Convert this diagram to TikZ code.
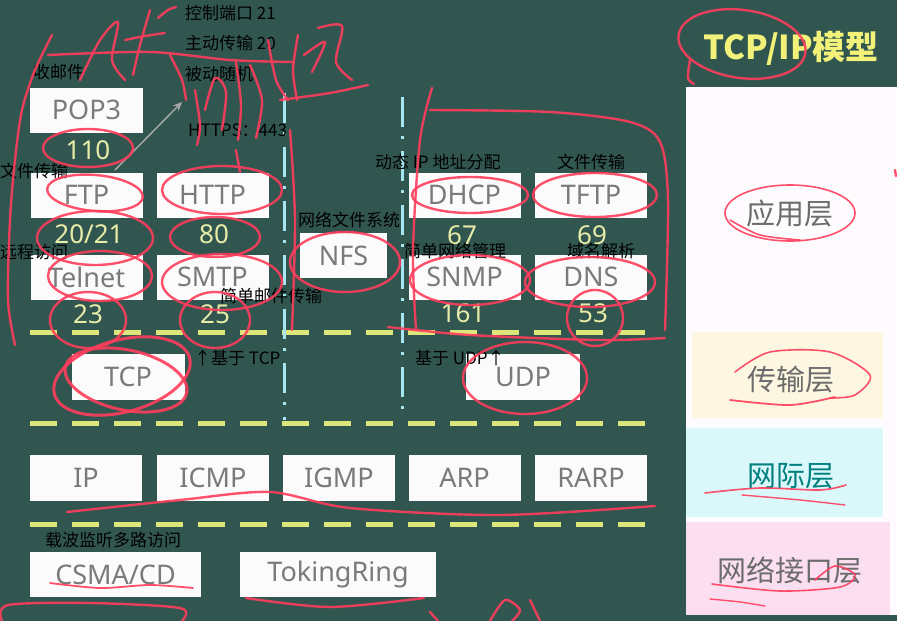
\documentclass[tikz,border=0pt]{standalone}
\usepackage{fontspec}
\setmainfont{Noto Sans CJK SC}
\newfontfamily\boxfont{Noto Sans}
\newfontfamily\cjk{Noto Sans CJK SC}
\usetikzlibrary{arrows.meta}
\definecolor{bg}{HTML}{30564F}
\definecolor{boxtext}{HTML}{7A7A7A}
\definecolor{numcol}{HTML}{E8ECA8}
\definecolor{dashy}{HTML}{DDE67A}
\definecolor{dashc}{HTML}{A6E6F0}
\definecolor{pen}{HTML}{FF3D5C}
\definecolor{titley}{HTML}{F2F27A}
\definecolor{appc}{HTML}{FDFBFD}
\definecolor{trc}{HTML}{FDF7E2}
\definecolor{inc}{HTML}{DAF7FA}
\definecolor{nic}{HTML}{FBDFF1}
\tikzset{
  pbox/.style={fill=white!97!gray, text=boxtext, inner sep=0pt,
    minimum width=112pt, minimum height=45pt,
    font=\boxfont\fontsize{27}{27}\selectfont},
  num/.style={text=numcol, inner sep=0pt, font=\boxfont\bfseries\fontsize{26}{26}\selectfont},
  note/.style={text=black, inner sep=0pt, anchor=west, font=\cjk\fontsize{17}{17}\selectfont},
  ydash/.style={draw=dashy, line width=5pt, dash pattern=on 27pt off 15pt},
  cdash/.style={draw=dashc, line width=3pt, dash pattern=on 30pt off 9pt on 3pt off 12pt},
  redpen/.style={draw=pen, line width=2.4pt, line cap=round, line join=round, opacity=0.9},
  layer/.style={inner sep=0pt, font=\cjk\fontsize{29}{29}\selectfont},
}
\begin{document}
\begin{tikzpicture}[x=1pt,y=-1pt]
\useasboundingbox (0,0) rectangle (897,621);
\fill[bg] (0,0) rectangle (897,621);

% right column
\fill[appc] (686,87) rectangle (897,615);
\fill[trc] (692,332) rectangle (883,418);
\fill[inc] (686,428) rectangle (883,517);
\fill[nic] (686,522) rectangle (890,615);
\node[text=titley, inner sep=0pt, font=\cjk\bfseries\fontsize{33}{33}\selectfont] (title) at (791,48) {TCP/IP模型};
\node[layer, text=gray!85!black] (app) at (790,213) {应用层};
\node[layer, text=gray!85!black] (trl) at (791,380) {传输层};
\node[layer, text=teal!75!cyan!80!black] (inl) at (791,476) {网际层};
\node[layer, text=gray!85!black] (nil) at (790,570) {网络接口层};

% dashed separators
\draw[ydash] (30,332) -- (660,332);
\draw[ydash] (30,423) -- (660,423);
\draw[ydash] (30,524) -- (660,524);
\draw[cdash] (284,93) -- (284,420);
\draw[cdash] (402,97) -- (402,420);

% application layer boxes
\node[pbox, minimum width=113pt] (pop3) at (86.5,110) {POP3};
\node[pbox] (ftp) at (86.5,195) {FTP};
\node[pbox] (http) at (212.5,195) {HTTP};
\node[pbox] (telnet) at (86.5,277) {Telnet};
\node[pbox] (smtp) at (212.5,277) {SMTP};
\node[pbox, minimum width=87pt] (nfs) at (343.5,255.5) {NFS};
\node[pbox] (dhcp) at (464.5,195) {DHCP};
\node[pbox] (tftp) at (591,195) {TFTP};
\node[pbox] (snmp) at (464.5,277) {SNMP};
\node[pbox] (dns) at (591,277) {DNS};
% ports
\node[num] (n110) at (88,150) {110};
\node[num] (n2021) at (89,234) {20/21};
\node[num] (n80) at (214,234) {80};
\node[num] (n23) at (88,314) {23};
\node[num] (n25) at (215,314) {25};
\node[num] (n67) at (462,235) {67};
\node[num] (n69) at (592,235) {69};
\node[num] (n161) at (463,313) {161};
\node[num] (n53) at (593,313) {53};

% transport
\node[pbox, minimum width=113pt, minimum height=46pt] (tcp) at (128,377) {TCP};
\node[pbox, minimum width=114pt, minimum height=46pt] (udp) at (523,377) {UDP};

% internet
\node[pbox, minimum height=46pt] (ip) at (86,478) {IP};
\node[pbox, minimum height=46pt] (icmp) at (213,478) {ICMP};
\node[pbox, minimum height=46pt] (igmp) at (339,478) {IGMP};
\node[pbox, minimum height=46pt] (arp) at (464.5,478) {ARP};
\node[pbox, minimum height=46pt] (rarp) at (591,478) {RARP};

% network interface
\node[pbox, minimum width=171pt] (csma) at (115.5,574.5) {CSMA/CD};
\node[pbox, minimum width=196pt] (token) at (338,574.5) {TokingRing};

% black notes
\node[note] (c21) at (185,13) {控制端口 21};
\node[note] (z20) at (185,43) {主动传输 20};
\node[note] (bd) at (185,74) {被动随机};
\node[note] (https) at (188,130) {HTTPS：443};
\node[note] (sy) at (33,72) {收邮件};
\node[note] (wj1) at (0,171) {文件传输};
\node[note] (yc) at (0,252) {远程访问};
\node[note] (jdyj) at (220,296) {简单邮件传输};
\node[note] (wlwj) at (298,220) {网络文件系统};
\node[note] (dt) at (375,162) {动态 IP 地址分配};
\node[note] (wj2) at (557,162) {文件传输};
\node[note] (jdwl) at (404,251) {简单网络管理};
\node[note] (ym) at (567,251) {域名解析};
\node[note] (jtcp) at (194,358) {↑基于 TCP};
\node[note] (judp) at (415,358) {基于 UDP↑};
\node[note] (zb) at (45,540) {载波监听多路访问};

% gray arrow
\coordinate (ga) at (115,170);
\coordinate (gb) at (182,102);
\draw[gray!70, line width=1.5pt, -{Stealth[length=9pt,width=8pt]}] (ga) -- (gb);

% red pen annotations
\draw[redpen] plot[smooth] coordinates {(52,35) (35,70) (22,110) (15,160) (10,220) (8,300) (15,345)};
\draw[redpen] plot[smooth] coordinates {(48,55) (150,52) (230,60) (293,62)};
\draw[redpen] plot[smooth] coordinates {(80,80) (100,40) (118,22) (112,60) (125,80)};
\draw[redpen] plot[smooth] coordinates {(150,10) (140,45) (133,75)};
\draw[redpen] plot[smooth] coordinates {(125,40) (145,36) (165,33)};
\draw[redpen] plot[smooth] coordinates {(158,18) (168,10) (176,7)};
\draw[redpen] plot[smooth] coordinates {(170,55) (182,80) (186,100)};
\draw[redpen] plot[smooth] coordinates {(195,90) (200,125) (197,145)};
\draw[redpen] plot[smooth] coordinates {(205,110) (215,78) (226,92) (222,130)};
\draw[redpen] plot[smooth] coordinates {(236,62) (241,105) (238,140)};
\draw[redpen] plot[smooth] coordinates {(250,65) (262,100) (256,138)};
\draw[redpen] plot[smooth] coordinates {(268,40) (276,80) (288,100)};
\draw[redpen] plot[smooth] coordinates {(298,35) (293,70) (297,100)};
\draw[redpen] plot[smooth] coordinates {(304,55) (325,42) (312,72)};
\draw[redpen] plot[smooth] coordinates {(318,28) (342,26) (336,62) (352,80)};
\draw[redpen] plot[smooth] coordinates {(280,100) (330,93) (368,85)};
\draw[redpen] plot[smooth] coordinates {(290,130) (295,220) (292,330)};
\draw[redpen] plot[smooth] coordinates {(236,150) (240,172)};
% ellipses
\draw[redpen] (88,148) ellipse [x radius=45, y radius=19];
\draw[redpen, rotate around={-5:(95,193)}] (95,193) ellipse [x radius=48, y radius=18];
\draw[redpen] (222,190) ellipse [x radius=60, y radius=24];
\draw[redpen] (95,238) ellipse [x radius=58, y radius=27];
\draw[redpen] (215,237) ellipse [x radius=45, y radius=20];
\draw[redpen] (100,276) ellipse [x radius=52, y radius=25];
\draw[redpen] (222,282) ellipse [x radius=60, y radius=28];
\draw[redpen] (88,320) ellipse [x radius=38, y radius=28];
\draw[redpen] (215,320) ellipse [x radius=35, y radius=28];
\draw[redpen, line width=3pt, rotate around={15:(122,376)}] (122,376) ellipse [x radius=70, y radius=36];
\draw[redpen, line width=3pt, rotate around={-12:(126,380)}] (126,380) ellipse [x radius=62, y radius=30];
\draw[redpen] (525,378) ellipse [x radius=62, y radius=36];
\draw[redpen] (345,262) ellipse [x radius=55, y radius=30];
\draw[redpen] (470,195) ellipse [x radius=58, y radius=18];
\draw[redpen] (595,195) ellipse [x radius=62, y radius=22];
\draw[redpen] (470,280) ellipse [x radius=60, y radius=25];
\draw[redpen] (590,282) ellipse [x radius=65, y radius=25];
\draw[redpen] (595,318) ellipse [x radius=28, y radius=28];
\draw[redpen] plot[smooth] coordinates {(432,88) (420,140) (413,250) (416,330)};
\draw[redpen] plot[smooth] coordinates {(430,110) (550,112) (630,122) (660,142) (668,200) (665,330)};
\draw[redpen] plot[smooth] coordinates {(388,327) (470,335) (600,340) (665,338)};
% right column
\draw[redpen, rotate around={-8:(742,44)}] (742,44) ellipse [x radius=64, y radius=34];
\draw[redpen] plot[smooth] coordinates {(690,60) (688,78) (694,84)};
\draw[redpen, line width=1.6pt] (790,213) ellipse [x radius=65, y radius=28];
\draw[redpen, line width=1.6pt] plot[smooth] coordinates {(730,220) (760,235) (800,240)};
\draw[redpen, line width=1.6pt] plot[smooth] coordinates {(735,372) (770,352) (830,352) (870,375) (855,395) (830,398)};
\draw[redpen, line width=1.8pt] plot[smooth] coordinates {(730,400) (790,405) (835,397)};
\draw[redpen, line width=1.6pt] plot[smooth] coordinates {(705,493) (760,488) (820,490) (846,485)};
\draw[redpen, line width=1.4pt] plot[smooth] coordinates {(742,495) (800,500) (845,505)};
\draw[redpen, line width=1.6pt] plot[smooth] coordinates {(712,584) (780,591) (840,587) (855,575) (835,566) (815,580)};
\draw[redpen, line width=1.4pt] plot[smooth] coordinates {(710,599) (740,602) (765,606)};
\draw[redpen] (895,170) -- (896,176);
% bottom area
\draw[redpen] plot[smooth] coordinates {(67,512) (180,500) (270,492) (350,508) (500,515) (655,506)};
\draw[redpen, line width=1.8pt] plot[smooth] coordinates {(50,583) (100,588) (150,585) (193,588)};
\draw[redpen] plot[smooth] coordinates {(246,598) (330,607) (424,598)};
\draw[redpen] plot[smooth] coordinates {(2,621) (8,605) (90,603) (180,608) (182,621)};
\draw[redpen] plot[smooth] coordinates {(430,612) (438,621)};
\draw[redpen] plot[smooth] coordinates {(490,621) (505,600) (520,610) (512,621)};
\draw[redpen] plot[smooth] coordinates {(530,600) (540,621)};
\end{tikzpicture}
\end{document}
